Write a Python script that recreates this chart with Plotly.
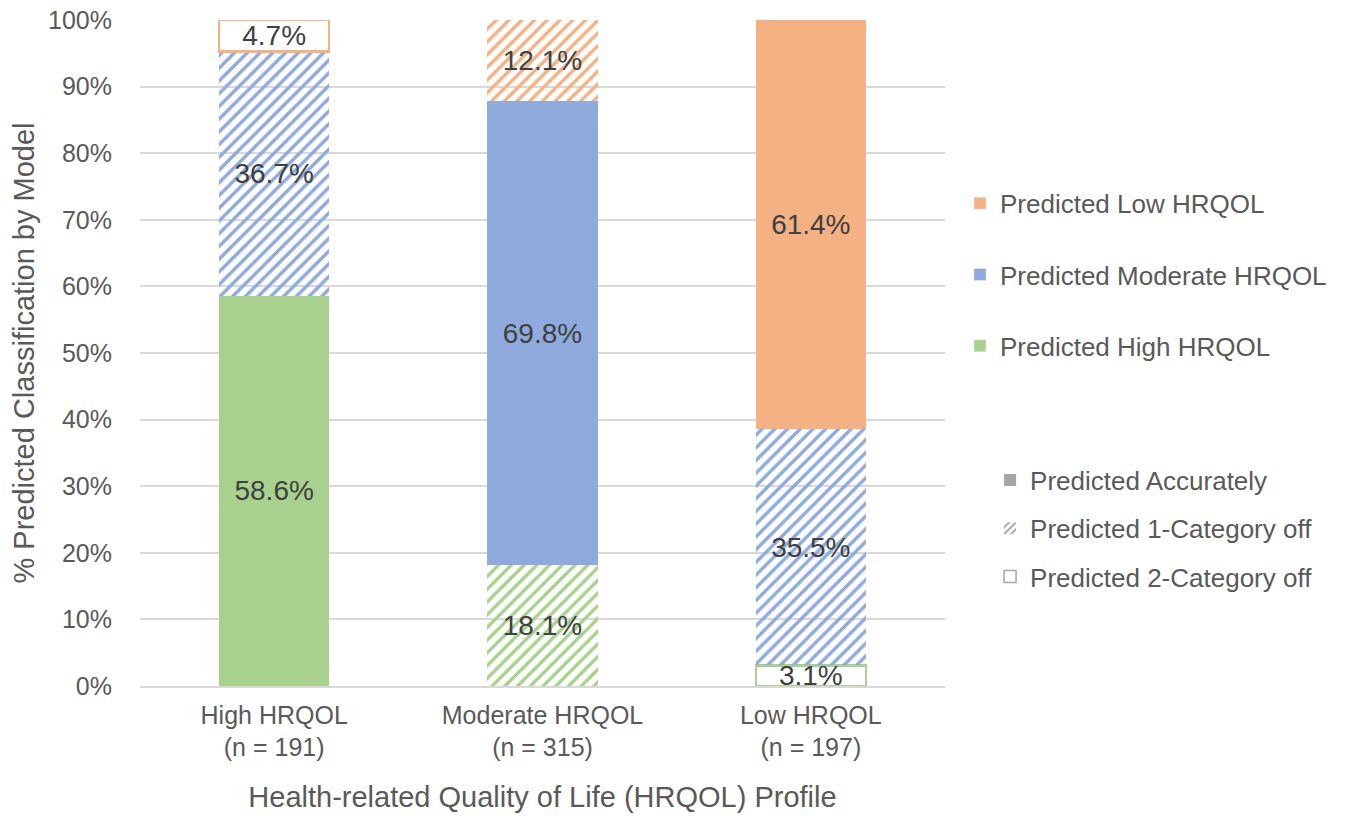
import plotly.graph_objects as go

categories = ["High HRQOL<br>(n = 191)", "Moderate HRQOL<br>(n = 315)", "Low HRQOL<br>(n = 197)"]
pred_high = [58.6, 18.1, 3.1]
pred_moderate = [36.7, 69.8, 35.5]
pred_low = [4.7, 12.1, 61.4]
# accuracy type per bar segment: "acc" solid, "one" hatched, "two" outlined
high_kind = ["acc", "one", "two"]
moderate_kind = ["one", "acc", "one"]
low_kind = ["two", "one", "acc"]

GREEN = "#A9D18E"
BLUE = "#8FAADC"
ORANGE = "#F4B183"
TXT = "#404040"
AX = "#595959"
FONT = "Liberation Sans, Arial, sans-serif"


def seg_style(color, kinds):
    fill, shape, lw = [], [], []
    for k in kinds:
        if k == "acc":
            fill.append(color); shape.append(""); lw.append(0)
        elif k == "one":
            fill.append(color); shape.append("/"); lw.append(0)
        else:
            fill.append("white"); shape.append(""); lw.append(2.5)
    return dict(
        color=fill,
        line=dict(color=color, width=lw),
        pattern=dict(shape=shape, bgcolor="white", size=9, solidity=0.38, fillmode="replace"),
    )


fig = go.Figure()
series = [
    ("Predicted High HRQOL", pred_high, GREEN, high_kind),
    ("Predicted Moderate HRQOL", pred_moderate, BLUE, moderate_kind),
    ("Predicted Low HRQOL", pred_low, ORANGE, low_kind),
]
for name, vals, color, kinds in series:
    fig.add_trace(go.Bar(
        x=categories, y=vals, name=name,
        marker=seg_style(color, kinds),
        texttemplate="%{y:.1f}%", textposition="inside", insidetextanchor="middle",
        textfont=dict(color=TXT, size=28, family=FONT),
        showlegend=False, hoverinfo="skip",
    ))

# legend-only entries for colours (Low on top)
for name, vals, color, kinds in reversed(series):
    fig.add_trace(go.Bar(
        x=[None], y=[None], name=name, marker=dict(color=color),
        legend="legend", legendgroup="leg_" + name, showlegend=True,
    ))

# legend for accuracy type
GRAY = "#A6A6A6"
acc_entries = [
    ("Predicted Accurately", dict(color=GRAY, line=dict(width=0))),
    ("Predicted 1-Category off", dict(color=GRAY, line=dict(width=0),
                                       pattern=dict(shape="/", bgcolor="white", size=6, solidity=0.4, fillmode="replace"))),
    ("Predicted 2-Category off", dict(color="white", line=dict(color=GRAY, width=1.5))),
]
for name, mk in acc_entries:
    fig.add_trace(go.Bar(
        x=[None], y=[None], name=name, marker=mk,
        legend="legend2", legendgroup="acc_" + name, showlegend=True,
    ))

fig.update_layout(
    width=1352, height=816,
    barmode="stack", bargap=0.59,
    paper_bgcolor="white", plot_bgcolor="white",
    margin=dict(l=140, r=407, t=20, b=130),
    font=dict(family=FONT, color=AX, size=25),
    uniformtext=dict(minsize=28, mode="show"),
    xaxis=dict(
        title=dict(text="Health-related Quality of Life (HRQOL) Profile", font=dict(size=29, color=AX), standoff=26),
        tickfont=dict(size=25, color=AX), ticklabelstandoff=6,
        showline=True, linecolor="#D9D9D9", linewidth=1.5, ticks="", automargin=False,
    ),
    yaxis=dict(
        title=dict(text="% Predicted Classification by Model", font=dict(size=29, color=AX), standoff=4),
        range=[0, 100], dtick=10, ticksuffix="%",
        tickfont=dict(size=25, color=AX), ticklabelstandoff=27,
        showgrid=True, gridcolor="#D9D9D9", gridwidth=1.5, zeroline=False, ticks="", automargin=False,
    ),
    legend=dict(
        x=1.0186, y=0.760, xanchor="left", yanchor="top",
        traceorder="grouped", tracegroupgap=34.5,
        font=dict(size=26, color=AX), itemwidth=30,
        bgcolor="rgba(0,0,0,0)",
    ),
    legend2=dict(
        x=1.056, y=0.3445, xanchor="left", yanchor="top",
        traceorder="grouped", tracegroupgap=11.5,
        font=dict(size=26, color=AX), itemwidth=30,
        bgcolor="rgba(0,0,0,0)",
    ),
)

fig.write_html(
    "out.html",
    config={"displayModeBar": False},
    post_script="document.body.style.margin='0';document.body.style.overflow='hidden';",
)
